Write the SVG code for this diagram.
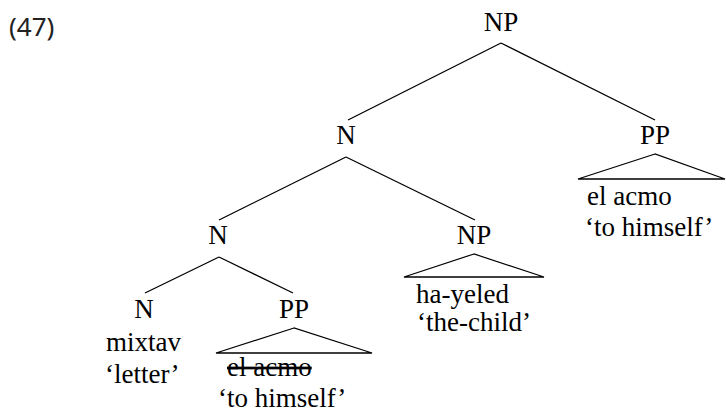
<svg xmlns="http://www.w3.org/2000/svg" width="726" height="414" viewBox="0 0 726 414">
<style>
  .c { text-anchor: middle; }
  .strike { text-decoration: line-through; }
  line, polygon { stroke: #000; stroke-width: 1.3; fill: none; }
</style>
<rect width="726" height="414" fill="#fff"/>
<text x="9" y="36" font-family="Noto Sans, DejaVu Sans, sans-serif" font-size="26" fill="#222">(47)</text>
<g id="connectors">
  <line x1="501" y1="43" x2="348" y2="120"/>
  <line x1="501" y1="43" x2="655" y2="120"/>
  <line x1="346" y1="157" x2="219" y2="220"/>
  <line x1="346" y1="157" x2="475" y2="220"/>
  <line x1="219" y1="257" x2="145" y2="293"/>
  <line x1="219" y1="257" x2="293" y2="293"/>
</g>
<g font-family="Liberation Serif, serif" font-size="27" fill="#000">
<g id="np-root"><text class="c" x="501" y="31">NP</text></g>
<g id="n-2"><text class="c" x="346" y="144">N</text></g>
<g id="pp-2">
  <text class="c" x="655" y="144">PP</text>
  <polygon points="655,154 578,179 725,179"/>
  <text x="587" y="205">el acmo</text>
  <text x="585" y="236">‘to himself’</text>
</g>
<g id="n-3"><text class="c" x="218" y="244">N</text></g>
<g id="np-3">
  <text class="c" x="474" y="244">NP</text>
  <polygon points="474,254 404,277 544,277"/>
  <text x="416" y="303">ha-yeled</text>
  <text x="417" y="331">‘the-child’</text>
</g>
<g id="n-4">
  <text class="c" x="144" y="318">N</text>
  <text x="106" y="351">mixtav</text>
  <text x="105" y="383">‘letter’</text>
</g>
<g id="pp-4">
  <text class="c" x="294" y="318">PP</text>
  <polygon points="294,328 216,353 372,353"/>
  <text class="strike" x="227" y="376">el acmo</text>
  <text x="218" y="407">‘to himself’</text>
</g>
</g>
</svg>
